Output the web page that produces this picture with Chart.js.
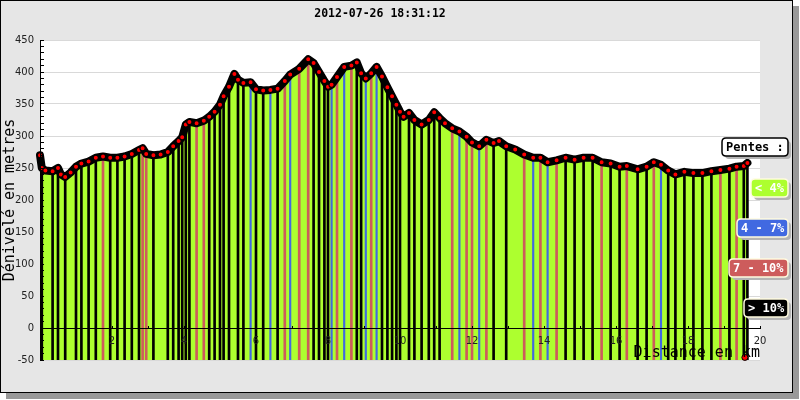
<!DOCTYPE html>
<html>
<head>
<meta charset="utf-8">
<script src="https://cdn.jsdelivr.net/npm/chart.js@4/dist/chart.umd.min.js"></script>
<style>
html,body{margin:0;padding:0;background:#fff;}
#frame{position:absolute;left:0;top:0;width:791px;height:391px;background:#e6e6e6;border:1px solid #000;box-shadow:6px 6px 0 #999;}
#c{position:absolute;left:0;top:0;}
</style>
</head>
<body>
<div id="frame"></div>
<canvas id="c" width="800" height="400"></canvas>
<script>
// ---- data ----
const chartTitle = '2012-07-26 18:31:12';
const distanceKm = [0.00,0.05,0.15,0.35,0.50,0.58,0.70,0.85,1.00,1.15,1.35,1.55,1.75,1.95,2.15,2.35,2.55,2.75,2.85,2.95,
  3.15,3.35,3.55,3.70,3.85,3.95,4.05,4.15,4.35,4.55,4.70,4.85,5.00,5.10,5.25,5.40,5.50,5.65,5.85,6.00,
  6.20,6.40,6.60,6.80,6.95,7.20,7.45,7.60,7.75,7.90,8.00,8.10,8.25,8.45,8.65,8.80,8.92,9.05,9.20,9.35,
  9.50,9.65,9.78,9.90,10.00,10.10,10.25,10.40,10.60,10.80,10.95,11.10,11.25,11.45,11.65,11.85,12.00,12.20,12.40,12.60,
  12.75,12.95,13.20,13.45,13.70,13.90,14.10,14.35,14.60,14.85,15.10,15.35,15.60,15.85,16.10,16.30,16.60,16.85,17.05,17.25,
  17.45,17.65,17.90,18.15,18.40,18.65,18.90,19.15,19.35,19.55,19.65];
const elevationM = [270,250,246,245,250,240,236,243,252,257,260,266,268,266,266,268,272,278,281,272,
  270,271,275,284,292,298,318,322,320,324,330,338,349,362,377,397,388,383,384,373,
  371,372,374,386,396,405,420,414,400,386,377,380,392,408,410,415,398,390,398,408,
  393,376,362,349,338,330,336,325,318,325,337,328,320,312,307,299,290,284,294,289,
  292,284,279,271,266,266,259,262,266,263,266,266,259,257,252,253,248,252,259,255,
  246,240,244,242,242,245,247,249,252,253,258];
// slope class of each segment: 0 = < 4%, 1 = 4 - 7%, 2 = 7 - 10%, 3 = > 10%
const slopeClass = [3,3,0,3,3,0,3,0,3,3,3,3,2,3,3,3,3,3,2,2,
  3,0,3,3,3,3,3,3,2,2,3,3,3,3,3,0,3,3,1,3,
  3,1,3,2,1,2,2,3,3,3,3,1,2,1,2,3,3,1,2,1,
  3,3,3,3,3,0,3,3,3,3,3,3,0,2,1,2,2,1,2,3,
  0,3,0,2,1,2,1,2,3,3,3,3,2,3,3,2,3,3,2,1,
  3,3,3,3,3,3,2,3,2,3,3];
const slopeLabels = ['< 4%', '4 - 7%', '7 - 10%', '> 10%'];
const legendTitle = 'Pentes :';
const strayPoint = [{x: 19.58, y: -46}];
const yMin = -50, yMax = 450;
const xTickLabels = ['2','4','6','8','10','12','14','16','18','20'];

// ---- styles ----
const SLOPE_COLORS = ['#adff2f', '#4169e1', '#cd5c5c', '#000000'];
const SLOPE_TEXT = ['#ffffff', '#ffffff', '#ffffff', '#ffffff'];
const BAR_WIDTH = [2, 1.5, 2, 2];

const profile = distanceKm.map((d, i) => ({x: d, y: elevationM[i]}));
function stripes(cls) {
  const out = [];
  distanceKm.forEach((d, i) => { if (slopeClass[i] === cls) out.push({x: d, y: [yMin, elevationM[i]]}); });
  return out;
}

const plotBg = {
  id: 'plotBg',
  beforeDraw(chart) {
    const {ctx, chartArea: a} = chart;
    ctx.save();
    ctx.fillStyle = '#ffffff';
    ctx.fillRect(a.left, a.top, a.right - a.left, a.bottom - a.top);
    ctx.restore();
  }
};

function rr(ctx, x, y, w, h, r) {
  ctx.beginPath();
  ctx.moveTo(x + r, y);
  ctx.lineTo(x + w - r, y);
  ctx.quadraticCurveTo(x + w, y, x + w, y + r);
  ctx.lineTo(x + w, y + h - r);
  ctx.quadraticCurveTo(x + w, y + h, x + w - r, y + h);
  ctx.lineTo(x + r, y + h);
  ctx.quadraticCurveTo(x, y + h, x, y + h - r);
  ctx.lineTo(x, y + r);
  ctx.quadraticCurveTo(x, y, x + r, y);
  ctx.closePath();
}

const pentesLegend = {
  id: 'pentesLegend',
  afterDraw(chart) {
    const ctx = chart.ctx;
    const a = chart.chartArea;
    const right = a.right + 28;
    ctx.save();
    ctx.font = 'bold 12px "DejaVu Sans Mono"';
    ctx.textBaseline = 'middle';
    ctx.textAlign = 'left';
    const box = (text, y, fill, stroke, color, lw) => {
      const w = Math.round(ctx.measureText(text).width) + 8;
      const h = 18;
      const x = right - w;
      ctx.fillStyle = '#b4b4b4';
      rr(ctx, x + 3, y + 3, w, h, 4); ctx.fill();
      ctx.fillStyle = fill;
      rr(ctx, x, y, w, h, 4); ctx.fill();
      ctx.lineWidth = lw; ctx.strokeStyle = stroke; ctx.stroke();
      ctx.fillStyle = color;
      ctx.fillText(text, x + 4, y + h / 2 + 1);
    };
    box(legendTitle, a.top + 98, '#ffffff', '#000000', '#000000', 1.5);
    slopeLabels.forEach((t, i) => {
      box(t, a.top + 139 + i * 40, SLOPE_COLORS[i], '#fffbe0', SLOPE_TEXT[i], 1.5);
    });
    ctx.restore();
  }
};

const datasets = [
  {
    type: 'line', label: 'Profil', data: profile, order: 0,
    borderColor: '#000', borderWidth: 8, borderJoinStyle: 'round', borderCapStyle: 'round',
    backgroundColor: SLOPE_COLORS[0], fill: 'start', tension: 0, clip: false,
    pointRadius: 2.6, pointBackgroundColor: '#ff0000', pointBorderColor: '#000', pointBorderWidth: 1.2
  },
  {
    type: 'line', label: 'stray', data: strayPoint, order: 0, showLine: false, fill: false, clip: false,
    pointRadius: 3, pointBackgroundColor: '#ff0000', pointBorderColor: '#000', pointBorderWidth: 1
  }
];
[3, 2, 1].forEach(c => {
  datasets.push({
    type: 'bar', label: slopeLabels[c], data: stripes(c), order: 1,
    backgroundColor: SLOPE_COLORS[c], borderWidth: 0, barThickness: BAR_WIDTH[c], grouped: false
  });
});

Chart.defaults.font.family = '"DejaVu Sans", sans-serif';

new Chart(document.getElementById('c'), {
  type: 'line',
  data: {datasets},
  options: {
    responsive: false,
    animation: false,
    events: [],
    layout: {padding: {top: 0, left: 0, right: 40, bottom: 40}},
    plugins: {
      legend: {display: false},
      tooltip: {enabled: false},
      filler: {drawTime: 'beforeDatasetsDraw'},
      title: {
        display: true, text: chartTitle, color: '#000',
        font: {family: '"DejaVu Sans Mono", monospace', size: 11.5, weight: 'bold', lineHeight: '14px'},
        padding: {top: 7, bottom: 19}
      }
    },
    scales: {
      x: {
        type: 'linear', position: {y: 0}, min: 0, max: 20, offset: false,
        ticks: {
          stepSize: 1, autoSkip: false, maxRotation: 0, padding: 10, color: '#222',
          font: {size: 10}, z: 1,
          callback: (v) => xTickLabels.includes(String(v)) ? String(v) : ''
        },
        grid: {drawOnChartArea: false, drawTicks: true, tickLength: -3, tickColor: '#000', offset: false, z: 1},
        border: {display: true, color: '#000', width: 1, z: 1},
        title: {
          display: true, text: 'Distance en km', align: 'end', color: '#000',
          font: {family: '"DejaVu Sans Mono", monospace', size: 15},
          padding: {top: -13, bottom: 0}
        }
      },
      y: {
        type: 'linear', position: 'left', min: yMin, max: yMax,
        ticks: {stepSize: 50, padding: 6, color: '#222', font: {size: 10}},
        grid: {color: '#d9d9d9', drawTicks: false},
        border: {display: false},
        title: {
          display: true, text: 'Dénivelé en metres', color: '#000',
          font: {family: '"DejaVu Sans Mono", monospace', size: 15},
          padding: {top: 1, bottom: 0}
        },
        afterFit(s) { s.width = 40; }
      },
      yMinor: {
        type: 'linear', axis: 'y', position: {x: 0}, min: yMin, max: yMax,
        ticks: {display: false, stepSize: 10, autoSkip: false},
        grid: {drawOnChartArea: false, drawTicks: true, tickLength: -4, tickColor: '#000', z: 1},
        border: {display: true, color: '#000', width: 1, z: 1}
      }
    }
  },
  plugins: [plotBg, pentesLegend]
});
</script>
</body>
</html>
